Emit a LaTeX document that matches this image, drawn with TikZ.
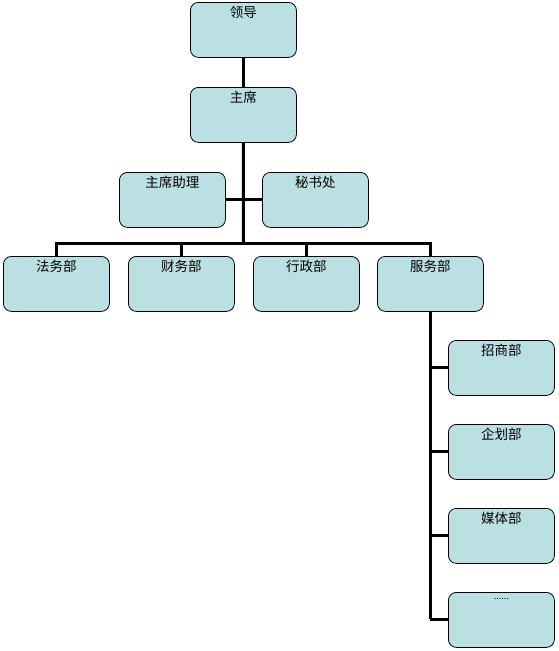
\documentclass[tikz,border=0pt]{standalone}
\usepackage{fontspec}
\setmainfont{Noto Sans CJK SC}
\usetikzlibrary{backgrounds}
\definecolor{boxfill}{HTML}{BBE0E3}
\begin{document}
\begin{tikzpicture}[x=1pt,y=-1pt,
  orgbox/.style={draw=black,line width=0.8pt,fill=boxfill,rounded corners=8pt,minimum width=106pt,minimum height=55pt,inner sep=0pt,anchor=north west},
  lbl/.style={font=\fontsize{13.5pt}{15pt}\selectfont,anchor=north,inner sep=0pt},
  conn/.style={line width=3pt}]
\useasboundingbox (0,0) rectangle (558,651);
\node[orgbox] (lead) at (190,2) {};
\node[orgbox] (chair) at (190,87) {};
\node[orgbox] (asst) at (119,172) {};
\node[orgbox] (sec) at (262,172) {};
\node[orgbox] (law) at (3,256) {};
\node[orgbox] (fin) at (128,256) {};
\node[orgbox] (adm) at (253,256) {};
\node[orgbox] (svc) at (377,256) {};
\node[orgbox] (inv) at (448,340) {};
\node[orgbox] (plan) at (448,424) {};
\node[orgbox] (media) at (448,508) {};
\node[orgbox] (more) at (448,592) {};
\node[lbl] at ([yshift=-3.5pt]lead.north) {领导};
\node[lbl] at ([yshift=-3.5pt]chair.north) {主席};
\node[lbl] at ([yshift=-3.5pt]asst.north) {主席助理};
\node[lbl] at ([yshift=-3.5pt]sec.north) {秘书处};
\node[lbl] at ([yshift=-3.5pt]law.north) {法务部};
\node[lbl] at ([yshift=-3.5pt]fin.north) {财务部};
\node[lbl] at ([yshift=-3.5pt]adm.north) {行政部};
\node[lbl] at ([yshift=-3.5pt]svc.north) {服务部};
\node[lbl] at ([yshift=-3.5pt]inv.north) {招商部};
\node[lbl] at ([yshift=-3.5pt]plan.north) {企划部};
\node[lbl] at ([yshift=-3.5pt]media.north) {媒体部};
\node[lbl,font=\fontsize{9pt}{10pt}\selectfont] at ([yshift=-6pt]more.north) {......};
\coordinate (bar) at (243.5,243);
\coordinate (svctrunk) at (431,619);
\begin{pgfonlayer}{background}
\draw[conn] (lead.south) -- (chair.north);
\draw[conn] (chair.south) -- (bar);
\draw[conn] (asst.east) -- (sec.west);
\draw[conn] (law.north) |- (bar) -| (svc.north);
\draw[conn] (fin.north) -- (fin.north |- bar);
\draw[conn] (adm.north) -- (adm.north |- bar);
\draw[conn] (svc.south) -- (svc.south |- svctrunk);
\draw[conn] (svc.south |- inv.west) -- (inv.west);
\draw[conn] (svc.south |- plan.west) -- (plan.west);
\draw[conn] (svc.south |- media.west) -- (media.west);
\draw[conn] (svc.south |- more.west) -- (more.west);
\end{pgfonlayer}
\end{tikzpicture}
\end{document}
